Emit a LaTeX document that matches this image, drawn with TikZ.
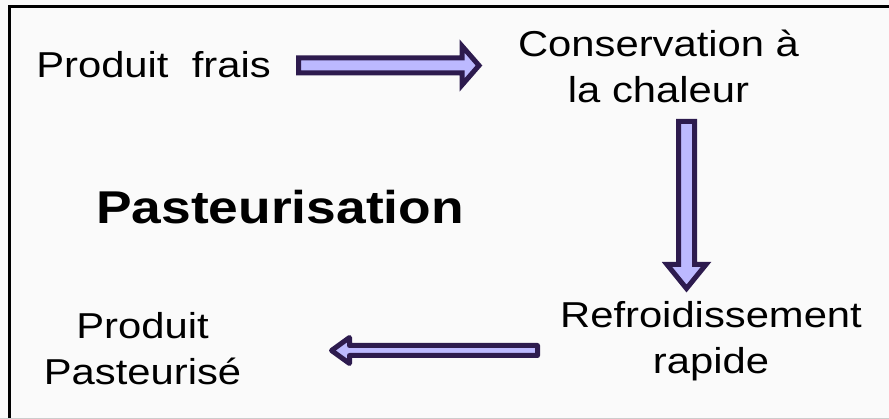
\documentclass[tikz,border=0pt]{standalone}
\usepackage{fontspec}
\setmainfont[FakeStretch=1.16]{Liberation Sans}
\definecolor{bgc}{RGB}{250,250,250}
\definecolor{arrline}{RGB}{45,27,78}
\definecolor{arrfill}{RGB}{188,185,255}
\begin{document}
\begin{tikzpicture}[x=1pt,y=-1pt,
  lbl/.style={inner sep=0pt, align=center, font=\fontsize{36}{46}\selectfont},
  title/.style={inner sep=0pt, font=\fontsize{46}{50}\selectfont\bfseries},
  fatarrow/.style={draw=arrline, fill=arrfill, line width=5pt, line join=miter},
  fatarrowr/.style={draw=arrline, fill=arrfill, line width=5pt, line join=round}]
\useasboundingbox (0,0) rectangle (889,419);
\fill[bgc] (0,0) rectangle (889,419);
\draw[line width=3pt] (9,425) -- (9,6.5) -- (895,6.5);
\draw[gray!40, line width=1pt] (0,418.5) -- (889,418.5);

\node[lbl] (pf) at (153.5,65) {Produit\ \ frais};
\node[lbl] (cons) at (658.5,66) {Conservation à\\la chaleur};
\node[title] (past) at (280,207) {Pasteurisation};
\node[lbl] (refr) at (711,341) {Refroidissement\\rapide};
\node[lbl] (prod) at (142.5,349) {Produit\\Pasteurisé};

% right arrow
\draw[fatarrow] (298.5,58) -- (462,58) -- (462,46) -- (479,65.5) -- (462,85) -- (462,73) -- (298.5,73) -- cycle;
% down arrow
\draw[fatarrow] (678.5,121.5) -- (694.5,121.5) -- (694.5,264.5) -- (706,264.5) -- (686.5,288.5) -- (667,264.5) -- (678.5,264.5) -- cycle;
% left arrow
\draw[fatarrowr] (537.5,345.5) -- (349.5,345.5) -- (349.5,337.5) -- (331.5,350.5) -- (349.5,363.5) -- (349.5,355.5) -- (537.5,355.5) -- cycle;
\end{tikzpicture}
\end{document}
